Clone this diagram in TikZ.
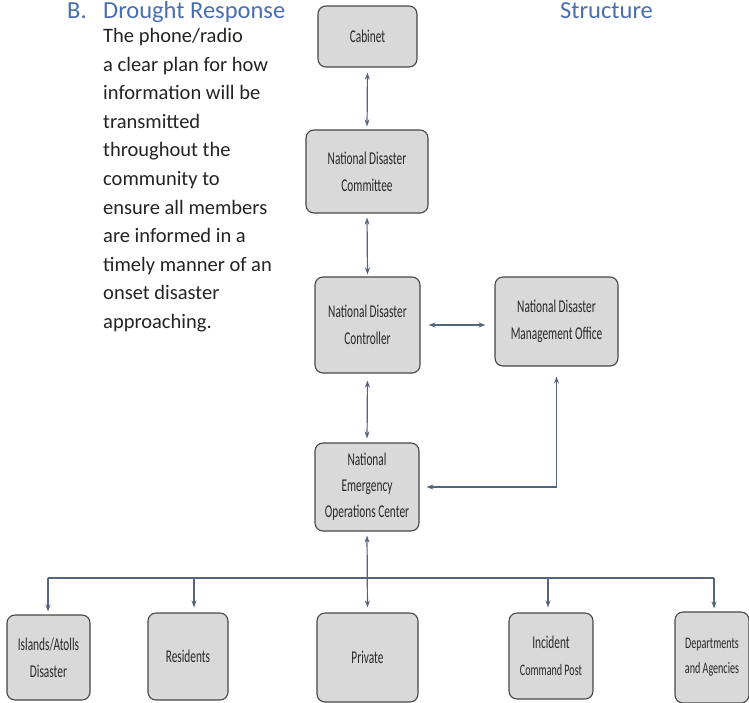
\documentclass[tikz,border=0pt]{standalone}
\usepackage{fontspec}
\setmainfont{Carlito}
\newfontfamily\boxfont[FakeStretch=0.63]{Carlito}
\usetikzlibrary{arrows.meta}
\definecolor{boxfill}{RGB}{217,217,217}
\definecolor{boxline}{RGB}{70,70,70}
\definecolor{arrowc}{RGB}{85,100,125}
\definecolor{headblue}{RGB}{72,110,178}
\definecolor{bodytext}{RGB}{35,35,35}
\definecolor{boxtext}{RGB}{40,40,40}
\tikzset{
  orgbox/.style={draw=boxline, fill=boxfill, line width=1.1pt, rounded corners=8pt,
    inner sep=0pt, align=center, text=boxtext, font=\boxfont\fontsize{18}{27}\selectfont},
  smalltxt/.style={font=\boxfont\fontsize{16}{25}\selectfont},
  link/.style={draw=arrowc, line width=1.2pt},
  tip/.style={-{Stealth[length=7pt,width=5pt]}},
  tips/.style={{Stealth[length=7pt,width=5pt]}-{Stealth[length=7pt,width=5pt]}},
  head/.style={anchor=base west, inner sep=0pt, text=headblue, font=\fontsize{24.5}{25}\selectfont},
}
\begin{document}
\begin{tikzpicture}[x=1pt,y=-1pt]
\useasboundingbox (0,0) rectangle (749,702);
% heading
\node[head] (hb) at (67,18) {B.};
\node[head] (hd) at (103,18) {Drought Response};
\node[head] (hs) at (560,18) {Structure};
% body text
\node[anchor=north west, inner sep=0pt, align=left, text=bodytext, font=\fontsize{20.5}{28.6}\selectfont] (body) at (103,28)
{The phone/radio\\ a clear plan for how\\ information will be\\ transmitted\\ throughout the\\ community to\\ ensure all members\\ are informed in a\\ timely manner of an\\ onset disaster\\ approaching.};
% boxes
\node[orgbox, minimum width=99pt, minimum height=61pt] (cab) at (367.5,36.5) {Cabinet};
\node[orgbox, minimum width=122pt, minimum height=83pt] (ndc) at (367,171.5) {National Disaster\\ Committee};
\node[orgbox, minimum width=105pt, minimum height=96pt] (ctrl) at (367.5,325) {National Disaster\\ Controller};
\node[orgbox, minimum width=123pt, minimum height=89pt] (ndmo) at (556.5,321.5) {National Disaster\\ Management Office};
\node[orgbox, minimum width=104pt, minimum height=88pt, font=\boxfont\fontsize{18}{26}\selectfont] (eoc) at (367,487) {National\\ Emergency\\ Operations Center};
\node[orgbox, minimum width=83pt, minimum height=85pt] (isl) at (48.5,657.5) {Islands/Atolls\\ Disaster};
\node[orgbox, minimum width=80pt, minimum height=87pt] (res) at (188,656.5) {Residents};
\node[orgbox, minimum width=101pt, minimum height=89pt] (priv) at (367.5,657.5) {Private};
\node[orgbox, minimum width=84pt, minimum height=86pt] (inc) at (551,656) {Incident\\ {\fontsize{16}{25}\selectfont Command Post}};
\node[orgbox, minimum width=74pt, minimum height=91pt, smalltxt] (dep) at (712,657.5) {Departments\\ and Agencies};
% connectors
\draw[link, tips, shorten <=5pt, shorten >=3pt] (cab.south) -- (ndc.north);
\draw[link, tips, shorten <=4pt, shorten >=2pt] (ndc.south) -- (ctrl.north);
\draw[link, tips, shorten <=8pt, shorten >=9pt] (ctrl.east) -- (ctrl.east -| ndmo.west);
\draw[link, tips, shorten <=7pt, shorten >=4pt] (ctrl.south) -- (eoc.north);
\draw[link, tips, shorten <=10pt, shorten >=7pt] (ndmo.south) |- (eoc.east);
\draw[link, tips, shorten <=4pt, shorten >=5pt] (eoc.south) -- (priv.north);
% bus
\coordinate (jisl) at (48,578);
\coordinate (jres) at (194,578);
\coordinate (jinc) at (548,578);
\coordinate (jdep) at (714,578);
\draw[link] (jisl) -- (jdep);
\draw[link, tip, shorten >=3pt] (jisl) -- (jisl |- isl.north);
\draw[link, tip, shorten >=5pt] (jres) -- (jres |- res.north);
\draw[link, tip, shorten >=5pt] (jinc) -- (jinc |- inc.north);
\draw[link, tip, shorten >=3pt] (jdep) -- (jdep |- dep.north);
\end{tikzpicture}
\end{document}
